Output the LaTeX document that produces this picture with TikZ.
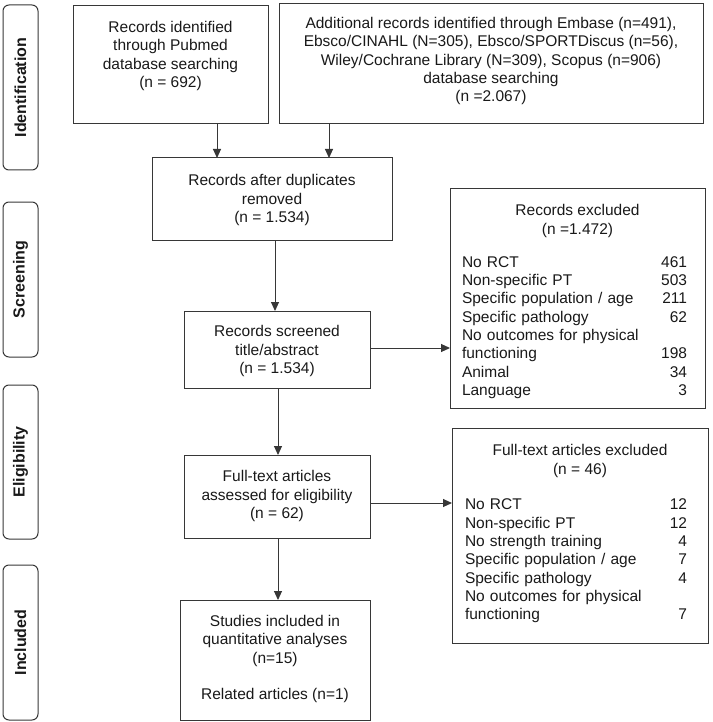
\documentclass[tikz,border=0pt]{standalone}
\usepackage{fontspec}
\setmainfont{Liberation Sans}
\usetikzlibrary{arrows.meta}
\definecolor{boxline}{RGB}{55,55,55}
\definecolor{textcol}{RGB}{25,25,25}
\begin{document}
\begin{tikzpicture}[x=1pt,y=-1pt,
  box/.style={draw=boxline, line width=1pt, inner sep=0pt, outer sep=0pt},
  txt/.style={align=center, inner sep=0pt, font=\fontsize{15.5}{18.3}\selectfont, text=textcol},
  listtxt/.style={align=left, inner sep=0pt, font=\fontsize{15.5}{18.3}\selectfont, text=textcol},
  stage/.style={draw=boxline, line width=1pt, rounded corners=6pt, minimum width=35pt, inner sep=0pt, outer sep=0pt},
  stagetxt/.style={rotate=90, inner sep=0pt, font=\fontsize{16}{19}\selectfont\bfseries, text=textcol},
  arr/.style={-{Triangle[length=9pt,width=8pt]}, line width=1pt, draw=boxline}
]
\useasboundingbox (0,0) rectangle (712,722);

% stage labels
\node[stage, minimum height=165pt] (s1) at (20.5,87.5) {};
\node[stagetxt] (s1t) at (s1.center) {Identification};
\node[stage, minimum height=155pt] (s2) at (20.5,279.5) {};
\node[stagetxt] (s2t) at (s2.center) {Screening};
\node[stage, minimum height=154pt] (s3) at (20.5,462) {};
\node[stagetxt] (s3t) at (s3.center) {Eligibility};
\node[stage, minimum height=155pt] (s4) at (20.5,642.5) {};
\node[stagetxt] (s4t) at (s4.center) {Included};

% boxes
\node[box, minimum width=195pt, minimum height=118pt] (pub) at (170.5,65) {};
\node[txt] (pubt) at (170.5,56) {Records identified\\through Pubmed\\database searching\\(n = 692)};

\node[box, minimum width=424pt, minimum height=120pt] (add) at (491,64) {};
\node[txt] (addt) at (491,61) {Additional records identified through Embase (n=491),\\Ebsco/CINAHL (N=305), Ebsco/SPORTDiscus (n=56),\\Wiley/Cochrane Library (N=309), Scopus (n=906)\\database searching\\(n =2.067)};

\node[box, minimum width=240pt, minimum height=82pt] (dup) at (272,199) {};
\node[txt] (dupt) at (272,200) {Records after duplicates\\removed\\(n = 1.534)};

\node[box, minimum width=186pt, minimum height=77pt] (scr) at (277,349.5) {};
\node[txt] (scrt) at (277,351) {Records screened\\title/abstract\\(n = 1.534)};

\node[box, minimum width=186pt, minimum height=83pt] (elig) at (277,496.5) {};
\node[txt] (eligt) at (277,496) {Full-text articles\\assessed for eligibility\\(n = 62)};

\node[box, minimum width=190pt, minimum height=120pt] (incl) at (275,660) {};
\node[txt] (inclt) at (275,659) {Studies included in\\quantitative analyses\\(n=15)\\[18.3pt]Related articles (n=1)};

\node[box, minimum width=255pt, minimum height=220pt] (ex1) at (577.5,298) {};
\node[txt] (ex1t) at (577.5,221) {Records excluded\\(n =1.472)};
\node[listtxt, text width=225pt] (ex1l) at (574.5,327.5) {No RCT\hfill 461\\Non-specific PT\hfill 503\\Specific population / age\hfill 211\\Specific pathology\hfill 62\\No outcomes for physical\\functioning\hfill 198\\Animal\hfill 34\\Language\hfill 3};

\node[box, minimum width=256pt, minimum height=215pt] (ex2) at (580,535.5) {};
\node[txt] (ex2t) at (580,461) {Full-text articles excluded\\(n = 46)};
\node[listtxt, text width=222pt] (ex2l) at (576,561) {No RCT\hfill 12\\Non-specific PT\hfill 12\\No strength training\hfill 4\\Specific population / age\hfill 7\\Specific pathology\hfill 4\\No outcomes for physical\\functioning\hfill 7};

% arrows
\draw[arr] ([xshift=46.5pt]pub.south) -- ([xshift=46.5pt]pub.south |- dup.north);
\draw[arr] ([xshift=-162pt]add.south) -- ([xshift=-162pt]add.south |- dup.north);
\draw[arr] ([xshift=3pt]dup.south) -- ([xshift=3pt]dup.south |- scr.north);
\draw[arr] ([xshift=1pt]scr.south) -- ([xshift=1pt]scr.south |- elig.north);
\draw[arr] ([xshift=1pt]elig.south) -- ([xshift=1pt]elig.south |- incl.north);
\draw[arr] ([yshift=1.5pt]scr.east) -- ([yshift=1.5pt]scr.east -| ex1.west);
\draw[arr] ([yshift=-6.5pt]elig.east) -- ([yshift=-6.5pt]elig.east -| ex2.west);
\end{tikzpicture}
\end{document}
